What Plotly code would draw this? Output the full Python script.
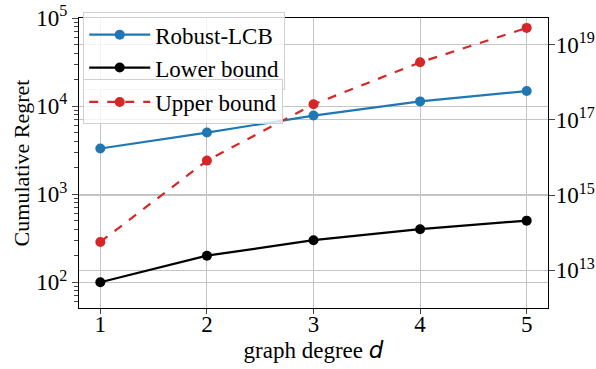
import plotly.graph_objects as go

degrees = [1, 2, 3, 4, 5]
robust_lcb = [3300, 5000, 7800, 11300, 14800]
lower_bound = [100, 200, 300, 400, 500]
upper_bound = [5.7e13, 8.3e15, 2.6e17, 3.4e18, 2.8e19]

left_tickvals = [1e2, 1e3, 1e4, 1e5]
left_ticktext = ["10<sup>2</sup>", "10<sup>3</sup>", "10<sup>4</sup>", "10<sup>5</sup>"]
right_tickvals = [1e13, 1e15, 1e17, 1e19]
right_ticktext = ["10<sup>13</sup>", "10<sup>15</sup>", "10<sup>17</sup>", "10<sup>19</sup>"]

FONT = "Liberation Serif"
FS = 23
GRID = "#c4c4c4"

fig = go.Figure()
fig.add_trace(go.Scatter(x=degrees, y=robust_lcb, name="Robust-LCB", mode="lines+markers",
                         line=dict(color="#1f77b4", width=2.2), marker=dict(size=10, color="#1f77b4"),
                         legend="legend"))
fig.add_trace(go.Scatter(x=degrees, y=lower_bound, name="Lower bound", mode="lines+markers",
                         line=dict(color="black", width=2.2), marker=dict(size=10, color="black"),
                         legend="legend"))
fig.add_trace(go.Scatter(x=degrees, y=upper_bound, name="Upper bound", mode="lines+markers",
                         line=dict(color="#d62728", width=2.2, dash="dash"),
                         marker=dict(size=10, color="#d62728"), yaxis="y2", legend="legend2"))

fig.update_layout(
    width=596, height=369,
    margin=dict(l=79, r=48, t=16, b=61),
    paper_bgcolor="white", plot_bgcolor="white",
    font=dict(family=FONT, size=FS, color="black"),
    xaxis=dict(range=[0.8, 5.2], tickvals=degrees, ticks="outside", ticklen=5, tickwidth=1,
               showline=True, linecolor="black", linewidth=1.3, mirror=True, automargin=False,
               showgrid=True, gridcolor=GRID, gridwidth=1, zeroline=False,
               ticklabelstandoff=-10,
               tickfont=dict(family=FONT, size=FS),
               title=dict(text="graph degree <span style='font-family:DejaVu Sans;font-style:italic'>d</span>",
                          font=dict(family=FONT, size=FS), standoff=6)),
    yaxis=dict(type="log", range=[1.707, 5], tickvals=left_tickvals, ticktext=left_ticktext,
               ticks="outside", ticklen=6, tickwidth=1, automargin=False,
               showline=True, linecolor="black", linewidth=1.3,
               showgrid=True, gridcolor=GRID, gridwidth=1, zeroline=False,
               minor=dict(ticks="outside", ticklen=3.5, tickwidth=0.8, showgrid=False,
                          tickvals=[m * 10 ** e for e in range(1, 5) for m in range(2, 10)]),
               tickfont=dict(family=FONT, size=FS),
               title=dict(text="Cumulative Regret", font=dict(family=FONT, size=22), standoff=0)),
    yaxis2=dict(type="log", range=[12.0, 19.71], overlaying="y", side="right",
                tickvals=right_tickvals, ticktext=right_ticktext, automargin=False,
                ticks="outside", ticklen=6, tickwidth=1, ticklabelstandoff=-4,
                showline=True, linecolor="black", linewidth=1.3,
                showgrid=True, gridcolor=GRID, gridwidth=1, zeroline=False,
                tickfont=dict(family=FONT, size=FS)),
    legend=dict(x=0.009, y=1.02, xanchor="left", yanchor="top",
                bgcolor="rgba(255,255,255,0.8)", bordercolor="#d0d0d0", borderwidth=1,
                font=dict(family=FONT, size=FS), itemwidth=61, tracegroupgap=0),
    legend2=dict(x=0.009, y=0.788, xanchor="left", yanchor="top",
                 bgcolor="rgba(255,255,255,0.8)", bordercolor="#d0d0d0", borderwidth=1,
                 font=dict(family=FONT, size=FS), itemwidth=61),
)

fig.write_html("out.html", config={"displayModeBar": False},
               post_script="document.body.style.margin='0';document.body.style.padding='0';")
